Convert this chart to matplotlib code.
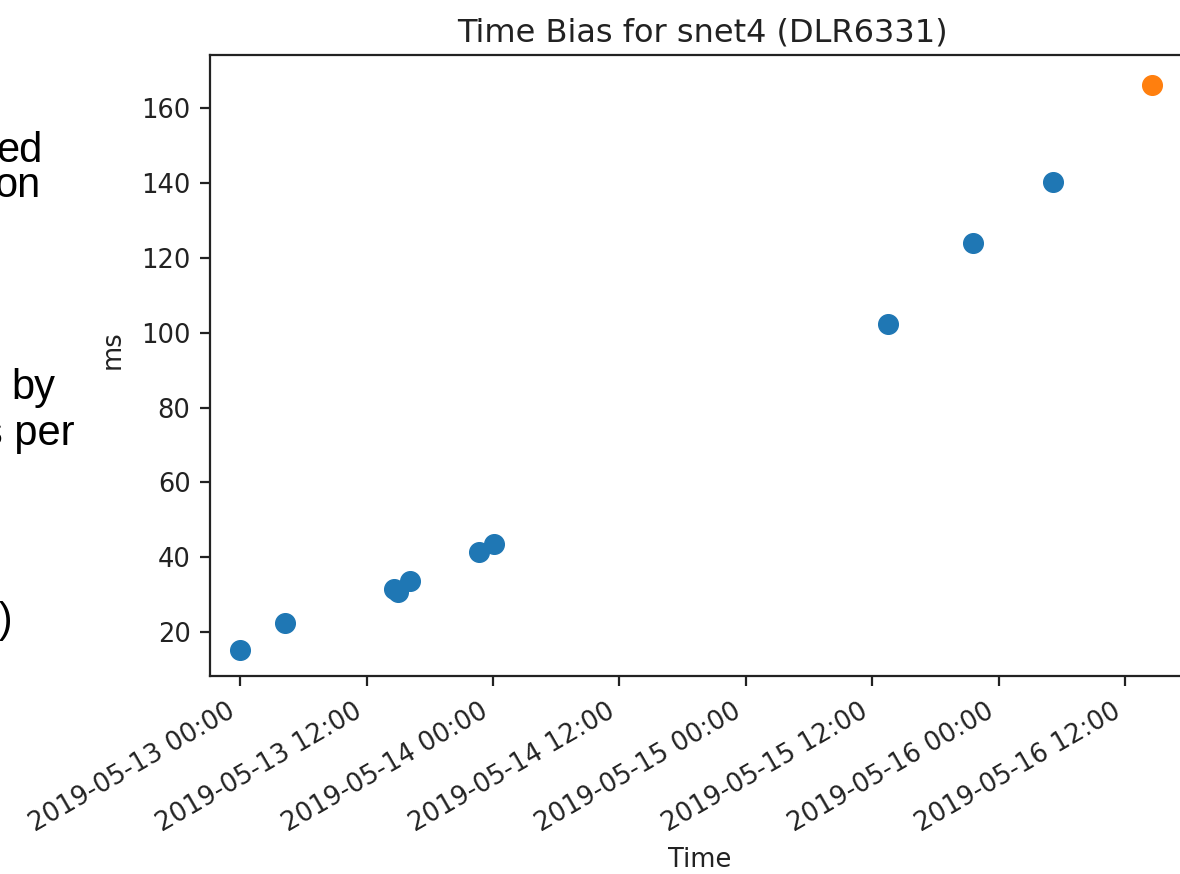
import numpy as np
import pandas as pd
import matplotlib
matplotlib.use("Agg")
import matplotlib.pyplot as plt
import matplotlib.dates as mdates

# measured time bias samples (blue) and latest sample (orange)
times = ["2019-05-13 00:00", "2019-05-13 04:15", "2019-05-13 14:35", "2019-05-13 15:00",
         "2019-05-13 16:05", "2019-05-13 22:40", "2019-05-14 00:05", "2019-05-15 13:30",
         "2019-05-15 21:30", "2019-05-16 05:05"]
bias_ms = [15.2, 22.4, 31.5, 30.7, 33.6, 41.4, 43.5, 102.2, 123.9, 140.2]
last_time = ["2019-05-16 14:30"]
last_bias = [166.3]

# cut-off slide text to the left of the chart
side_text = ["ed", "on", "by", "s per", "s)"]

t = pd.to_datetime(times)
t_last = pd.to_datetime(last_time)
t0 = pd.Timestamp("2019-05-13 00:00")

W, H = 1180, 874
fig = plt.figure(figsize=(W / 100, H / 100), dpi=100)
ax = fig.add_axes([210 / W, 1 - 676 / H, (1195 - 210) / W, (676 - 55) / H])

ax.scatter(t, bias_ms, s=200, color="#1f77b4", zorder=3)
ax.scatter(t_last, last_bias, s=200, color="#ff7f0e", zorder=3)

ax.set_xlim(t0 - pd.Timedelta(hours=2.85), t0 + pd.Timedelta(hours=90.6))
ax.set_ylim(8.25, 174.2)
ax.set_yticks([20, 40, 60, 80, 100, 120, 140, 160])
ax.xaxis.set_major_locator(mdates.HourLocator(byhour=[0, 12]))
ax.xaxis.set_major_formatter(mdates.DateFormatter("%Y-%m-%d %H:%M"))
for lab in ax.get_xticklabels():
    lab.set_rotation(30)
    lab.set_ha("right")

ax.tick_params(labelsize=18.5, length=7, width=1.6, pad=7, colors="#222222")
ax.tick_params(axis="x", pad=9)
for sp in ax.spines.values():
    sp.set_linewidth(1.6)
    sp.set_color("#222222")

ax.set_title("Time Bias for snet4 (DLR6331)", fontsize=23, pad=10, color="#222222")
ax.set_ylabel("ms", fontsize=18.5, color="#222222")
ax.set_xlabel("Time", fontsize=18.5, color="#222222")
ax.yaxis.set_label_coords(-84 / (1195 - 210), (676 - 350) / (676 - 55))
ax.xaxis.set_label_coords((700 - 210) / (1195 - 210), -(860 - 676) / (676 - 55))
ax.xaxis.label.set_va("center")

# slide text fragments (right edge x px, baseline y px)
pos = [(42, 162), (40, 197), (55, 399), (75, 445), (14, 632)]
for s, (x, y) in zip(side_text, pos):
    fig.text(x / W, 1 - y / H, s, ha="right", va="baseline",
             fontsize=30, family="Liberation Sans")

fig.savefig("out.png", dpi=100)
